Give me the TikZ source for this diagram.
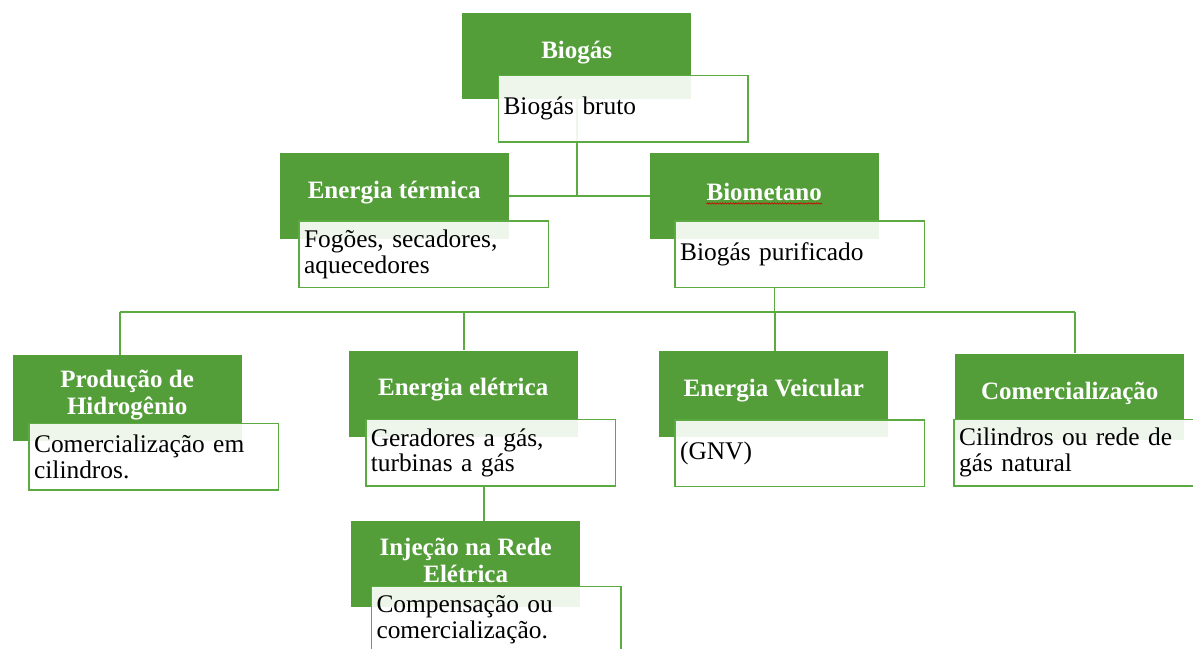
\documentclass[tikz,border=0pt]{standalone}
\usepackage{fontspec}
\setmainfont{Liberation Serif}
\usetikzlibrary{decorations.pathmorphing}
\definecolor{gr}{RGB}{84,158,58}
\definecolor{grl}{RGB}{92,170,66}
\begin{document}
\begin{tikzpicture}[x=1pt,y=-1pt,
  gbox/.style={fill=gr, draw=none, minimum width=229pt, minimum height=86pt, anchor=north west, inner sep=0pt},
  wbox/.style={fill=white, fill opacity=0.9, text opacity=1, draw=grl, draw opacity=1, line width=1.6pt,
    minimum width=249.5pt, minimum height=66.5pt, anchor=north west, inner xsep=5pt, inner ysep=0pt,
    text width=239.5pt, align=left, font=\fontsize{25.4}{25.5}\selectfont},
  ttl/.style={text=white, font=\bfseries\fontsize{25}{26.7}\selectfont, align=center, inner sep=0pt},
  conn/.style={draw=grl, line width=1.8pt},
  squiggle/.style={draw=red!80!black, line width=0.6pt, decorate, decoration={snake, amplitude=0.7pt, segment length=2.6pt}}]
\useasboundingbox (0,0) rectangle (1193,648);
\clip (0,0) rectangle (1193,648);

% coordinates for the tree lines
\coordinate (busL) at (120,312);
\coordinate (busR) at (1075,312);
\coordinate (busM) at (774.5,312);
\coordinate (dropE) at (464.3,312);
\coordinate (dropV) at (775,312);
\coordinate (injx) at (484.3,500);

% green boxes
\node[gbox] (biogas) at (462,13) {};
\node[gbox] (etermica) at (279.5,152.7) {};
\node[gbox] (biometano) at (649.5,152.7) {};
\node[gbox] (prod) at (12.5,355) {};
\node[gbox] (eeletrica) at (348.5,350.3) {};
\node[gbox] (veicular) at (659,350.5) {};
\node[gbox] (comerc) at (955,353.3) {};
\node[gbox] (injecao) at (351,521) {};

% connectors (behind the white boxes)
\draw[conn] (biogas.south) -- (biogas.south |- etermica.east);
\draw[conn] (etermica.east) -- (biometano.west);
\draw[conn] (busL) -- (busR);
\draw[conn] (busL) -- (busL |- prod.north);
\draw[conn] (dropE) -- (dropE |- eeletrica.north);
\draw[conn] (dropV) -- (dropV |- veicular.north);
\draw[conn] (busR) -- (busR |- comerc.north);

% white boxes
\node[wbox] (bruto) at (497.7,74.7) {Biogás bruto};
\node[wbox] (fogoes) at (298.3,220.3) {Fogões, secadores,\\aquecedores};
\node[wbox] (purif) at (674.3,220) {Biogás purificado};
\node[wbox] (cil1) at (28.3,422.7) {Comercialização em\\cilindros.};
\node[wbox] (ger) at (365,418.7) {Geradores a gás,\\turbinas a gás};
\node[wbox] (gnv) at (674.3,419) {(GNV)};
\node[wbox] (cil2) at (953.3,418.5) {Cilindros ou rede de\\gás natural};
\node[wbox] (comp) at (370.7,585.7) {Compensação ou\\comercialização.};

\draw[conn] (busM |- purif.south) -- (busM);
\draw[conn] (injx |- ger.south) -- (injx |- injecao.north);

% titles
\node[ttl] (tbiogas) at ([yshift=3.5pt]biogas.center) {Biogás};
\node[ttl] (tetermica) at ([yshift=3.5pt]etermica.center) {Energia térmica};
\node[ttl] (tbiometano) at ([yshift=3.5pt]biometano.center) {Biometano};
\node[ttl] (tprod) at ([yshift=3.5pt]prod.center) {Produção de\\Hidrogênio};
\node[ttl] (teeletrica) at ([yshift=3.5pt]eeletrica.center) {Energia elétrica};
\node[ttl] (tveicular) at ([yshift=3.5pt]veicular.center) {Energia Veicular};
\node[ttl] (tcomerc) at ([yshift=3.5pt]comerc.center) {Comercialização};
\node[ttl] (tinjecao) at ([yshift=3.5pt]injecao.center) {Injeção na Rede\\Elétrica};

\draw[squiggle] ([yshift=-2.5pt]tbiometano.base west) -- ([yshift=-2.5pt]tbiometano.base east);
\end{tikzpicture}
\end{document}
